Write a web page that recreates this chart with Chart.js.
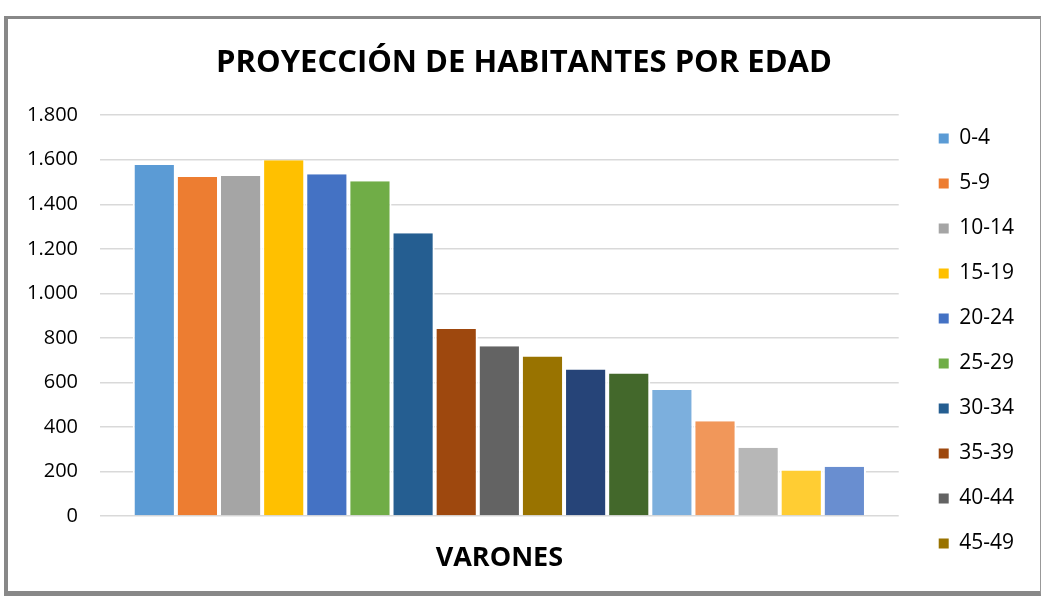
<!DOCTYPE html>
<html>
<head>
<meta charset="utf-8">
<script src="https://cdn.jsdelivr.net/npm/chart.js@4"></script>
<style>
  html, body { margin: 0; padding: 0; background: #fff; }
  #frame {
    position: absolute; left: 4px; top: 16px; width: 1037px; height: 580px;
    border-left: 4px solid #888; border-top: 3px solid #888;
    border-right: 1px solid #999; border-bottom: 5px solid #888;
    box-sizing: border-box; background: #fff;
  }
  #wrap { position: relative; width: 1032px; height: 572px; }
</style>
</head>
<body>
<div id="frame"><div id="wrap"><canvas id="popChart"></canvas></div></div>
<script>
// Data
const category = ['VARONES'];
const ageGroups = ['0-4', '5-9', '10-14', '15-19', '20-24', '25-29', '30-34', '35-39', '40-44',
    '45-49', '50-54', '55-59', '60-64', '65-69', '70-74', '75-79', '80 y más'];
const inhabitants = [1576, 1522, 1527, 1598, 1535, 1503, 1270, 840, 762,
    716, 658, 640, 566, 425, 306, 204, 221];
const barColors = ['#5B9BD5', '#ED7D31', '#A5A5A5', '#FFC000', '#4472C4', '#70AD47', '#255E91', '#9E480E', '#636363',
    '#997300', '#264478', '#43682B', '#7CAFDD', '#F1975A', '#B7B7B7', '#FFCD33', '#698ED0'];
const yTicks = [0, 200, 400, 600, 800, 1000, 1200, 1400, 1600, 1800];

Chart.defaults.font.family = "'Open Sans', sans-serif";
Chart.defaults.color = '#000';

// One dataset per age group, all in the single category
const datasets = ageGroups.map((age, i) => ({
    label: age,
    data: [inhabitants[i]],
    backgroundColor: barColors[i],
    borderColor: '#fff',
    borderWidth: { left: 2, right: 2, top: 0, bottom: 0 }
}));

// keep the title centred on the whole frame, not on the space left of the padding
const centerTitle = {
    id: 'centerTitle',
    afterLayout(c) {
        c.titleBlock.right = c.width;
        c.titleBlock.width = c.width;
    }
};

const ctx = document.getElementById('popChart').getContext('2d');
const chart = new Chart(ctx, {
    type: 'bar',
    data: { labels: category, datasets: datasets },
    plugins: [centerTitle],
    options: {
        responsive: true,
        maintainAspectRatio: false,
        animation: false,
        layout: { padding: { left: 0, right: 16, top: 0, bottom: 0 } },
        datasets: {
            bar: { categoryPercentage: 0.918, barPercentage: 1 }
        },
        plugins: {
            title: {
                display: true,
                text: 'PROYECCIÓN DE HABITANTES POR EDAD',
                font: { size: 31, weight: 'bold' },
                color: '#000',
                padding: { top: 26, bottom: 33 }
            },
            legend: {
                position: 'right',
                align: 'start',
                title: { display: true, text: ' ', font: { size: 10 }, padding: { top: 73, bottom: 0 } },
                labels: {
                    boxWidth: 10,
                    boxHeight: 10,
                    padding: 24,
                    font: { size: 21 },
                    color: '#000',
                    filter: (item) => item.datasetIndex < 10,
                    generateLabels: (c) => {
                        const items = Chart.defaults.plugins.legend.labels.generateLabels(c);
                        items.forEach(it => { it.lineWidth = 0; it.strokeStyle = it.fillStyle; });
                        return items;
                    }
                }
            },
            tooltip: { enabled: false }
        },
        scales: {
            x: {
                grid: { display: false, drawTicks: false },
                border: { display: false },
                ticks: { font: { size: 27, weight: 'bold' }, color: '#000', padding: 26 },
                afterFit: (s) => { s.height = 75; }
            },
            y: {
                min: 0,
                max: 1800,
                afterBuildTicks: (s) => { s.ticks = yTicks.map(v => ({ value: v })); },
                grid: { color: '#d9d9d9', lineWidth: 1.5, drawTicks: false },
                border: { display: false },
                ticks: {
                    font: { size: 20 },
                    color: '#000',
                    padding: 22,
                    callback: (v) => v.toString().replace(/\B(?=(\d{3})+(?!\d))/g, '.')
                },
                afterFit: (s) => { s.width = 92; }
            },
            gap: {
                position: 'right',
                grid: { display: false, drawTicks: false },
                border: { display: false },
                ticks: { display: false },
                afterFit: (s) => { s.width = 16; }
            }
        }
    }
});
</script>
</body>
</html>
